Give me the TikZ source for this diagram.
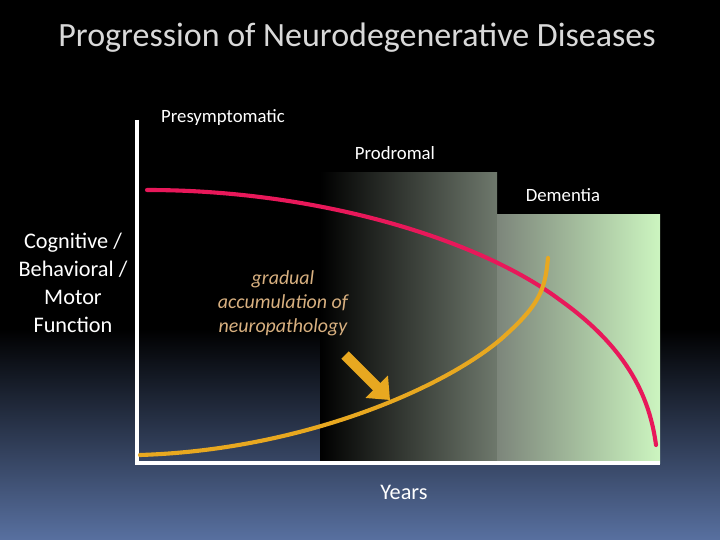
\documentclass[tikz,border=0pt]{standalone}
\usepackage{fontspec}
\setmainfont{Carlito}
\usetikzlibrary{arrows.meta}
\definecolor{slate}{RGB}{88,112,160}
\definecolor{rosered}{RGB}{232,24,90}
\definecolor{goldline}{RGB}{232,168,32}
\definecolor{tanlabel}{RGB}{216,176,128}
\definecolor{stagegray}{RGB}{110,120,108}
\definecolor{palegreen}{RGB}{204,245,192}
\tikzset{
  stagelabel/.style={text=white, font=\fontsize{16}{19}\selectfont},
  curveline/.style={line width=3.5pt, line cap=round}
}
\begin{document}
\begin{tikzpicture}[x=0.03cm, y=-0.03cm]
	% background
	\fill[black] (0,0) rectangle (720,330);
	\shade[top color=black, bottom color=slate] (0,329) rectangle (720,540);
	\useasboundingbox (0,0) rectangle (720,540);
	% stages
	\shade[left color=black, right color=stagegray] (320,173) rectangle (497,463);
	\shade[left color=stagegray!90!white, right color=palegreen] (497,215) rectangle (660,463);
	% axes
	\draw[white, line width=3.5pt] (137,120) -- (137,463) -- (660,463);
	% texts
	\node[text=white!85!black, font=\fontsize{29}{34}\selectfont] (title) at (357,38) {Progression of Neurodegenerative Diseases};
	\node[stagelabel] (presym) at (223,118) {Presymptomatic};
	\node[stagelabel] (prodrom) at (395,153) {Prodromal};
	\node[stagelabel] (dement) at (563,195) {Dementia};
	\node[text=white, align=center, font=\fontsize{19}{24}\selectfont] (ylab) at (73,283) {Cognitive /\\Behavioral /\\Motor\\Function};
	\node[text=tanlabel, align=center, font=\itshape\fontsize{17}{20.5}\selectfont] (note) at (283,303) {gradual\\accumulation of\\neuropathology};
	\node[text=white, font=\fontsize{19}{23}\selectfont] (xlab) at (404,492) {Years};
	% curves
	\draw[curveline, rosered] (147,190) .. controls (320,190) and (480,240) .. (560,300) .. controls (630,350) and (650,400) .. (656,445);
	\draw[curveline, goldline] (140,455) .. controls (300,450) and (440,390) .. (500,340) .. controls (540,305) and (545,290) .. (548,258);
	% arrow
	\coordinate (arrA) at (345,355);
	\coordinate (arrB) at (390,400);
	\draw[goldline, line width=9pt, -{Triangle[length=16pt, width=26pt]}] (arrA) -- (arrB);
\end{tikzpicture}
\end{document}
